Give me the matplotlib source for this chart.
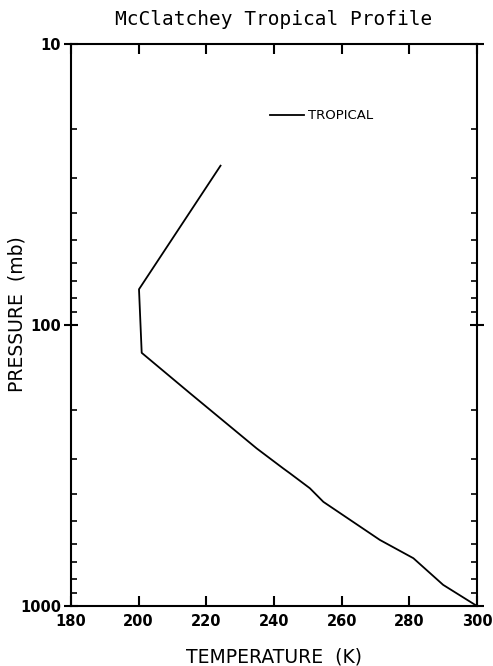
import numpy as np
import matplotlib
matplotlib.use("Agg")
import matplotlib.pyplot as plt
from matplotlib.ticker import FixedLocator, NullFormatter

# profile
temperature = [300, 290.0, 281.2, 271.3, 254.6, 250.6, 244.7, 242.75, 234.9, 215.2, 200.9, 200.1, 224.2]
pressure = [1000, 841, 676, 582, 426, 381, 337, 324, 275, 175, 125.6, 74.6, 27.1]

x_ticks = [180, 200, 220, 240, 260, 280, 300]
y_ticks = [10, 100, 1000]

fig = plt.figure(figsize=(4.93, 6.66), dpi=100)
ax = fig.add_axes([0.144, 0.0901, 0.8235, 0.8438])

ax.plot(temperature, pressure, color="black", lw=1.3, label="TROPICAL")

ax.set_yscale("log")
ax.set_xlim(180, 300)
ax.set_ylim(1000, 10)

ax.set_xticks(x_ticks)
ax.set_xticklabels([str(t) for t in x_ticks], fontweight="bold", fontsize=10.5)
ax.yaxis.set_major_locator(FixedLocator(y_ticks))
ax.set_yticklabels([str(p) for p in y_ticks], fontweight="bold", fontsize=10.5)
minors = [m * d for d in (10, 100) for m in range(2, 10)]
ax.yaxis.set_minor_locator(FixedLocator(minors))
ax.yaxis.set_minor_formatter(NullFormatter())

ax.tick_params(axis="x", direction="in", length=7, width=1.5, top=True, pad=6)
ax.tick_params(axis="y", which="major", direction="inout", length=10, width=1.5, right=True, pad=2)
ax.tick_params(axis="y", which="minor", direction="in", length=4, width=1.2, right=True)

for s in ax.spines.values():
    s.set_linewidth(1.5)

ax.set_xlabel("TEMPERATURE  (K)", fontsize=13.5, labelpad=13)
ax.set_ylabel("PRESSURE  (mb)", fontsize=13.5)
ax.yaxis.set_label_coords(-0.11, 0.52)
ax.set_title("McClatchey Tropical Profile", family="DejaVu Sans Mono", fontsize=14, pad=14)

ax.legend(loc="upper left", bbox_to_anchor=(0.46, 0.905), frameon=False,
          handlelength=2.6, handletextpad=0.3, fontsize=9.5)

fig.savefig("out.png", dpi=100)
